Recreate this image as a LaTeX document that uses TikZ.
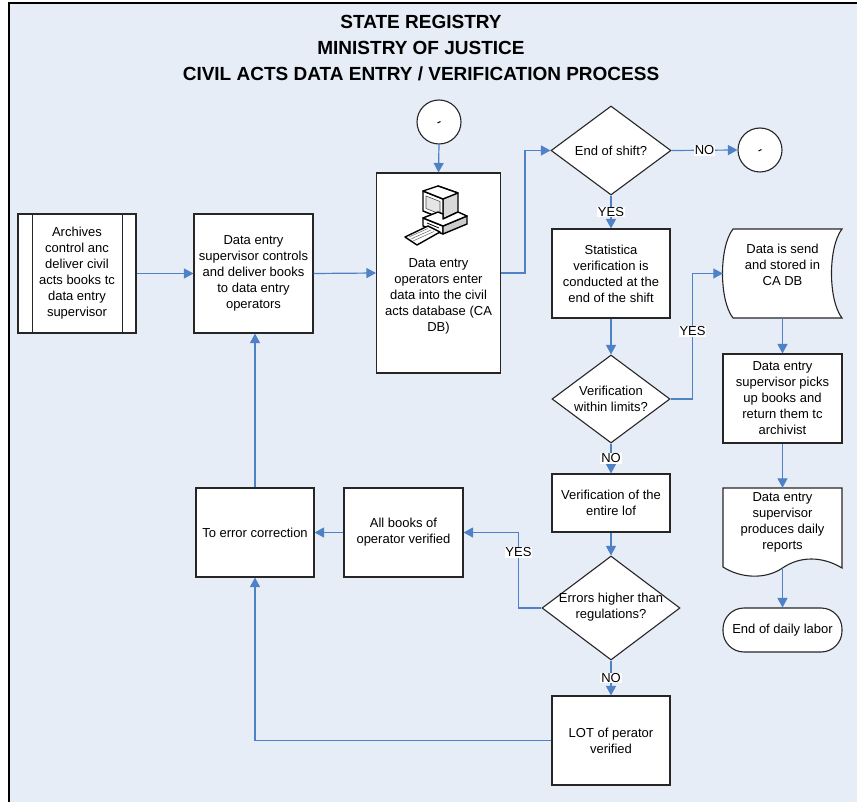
\documentclass[tikz,border=0pt]{standalone}
\usepackage{fontspec}
\setmainfont{Liberation Sans}
\usetikzlibrary{arrows.meta,shapes.geometric,calc}
\definecolor{bgc}{RGB}{230,237,247}
\definecolor{arr}{RGB}{79,129,199}
\tikzset{
  box/.style={draw=black!85,line width=1.1pt,fill=white,rectangle,inner sep=1pt,align=center,font=\fontsize{13}{16}\selectfont},
  dia/.style={draw=black!85,line width=1.1pt,fill=white,diamond,inner sep=0pt},
  dtext/.style={align=center,font=\fontsize{13}{16}\selectfont,inner sep=0pt},
  circ/.style={draw=black!85,line width=1.1pt,fill=white,circle,minimum size=44pt,inner sep=0pt},
  conn/.style={draw=arr,line width=1.2pt,-{Triangle[length=9.5pt,width=10pt]}},
  lab/.style={fill=white,inner sep=0.8pt,font=\fontsize{13}{15}\selectfont,text=black},
  icon/.style={draw=black,line width=1.4pt,line join=round}
}
\begin{document}
\begin{tikzpicture}[x=1pt,y=-1pt]
\useasboundingbox (0,0) rectangle (857,802);
\fill[bgc] (9,3) rectangle (857,802);
\draw[black,line width=1.2pt] (9,802) -- (9,3) -- (857,3);

\node[align=center,font=\fontsize{19}{26}\selectfont\bfseries] (title) at (421,48)
  {STATE REGISTRY\\MINISTRY OF JUSTICE\\CIVIL ACTS DATA ENTRY / VERIFICATION PROCESS};

% nodes
\node[box,minimum width=118pt,minimum height=119pt] (arch) at (77,273.5)
  {Archives\\control anc\\deliver civil\\acts books tc\\data entry\\supervisor};
\draw[black!85,line width=1.1pt] ([xshift=15pt]arch.north west) -- ([xshift=15pt]arch.south west);
\draw[black!85,line width=1.1pt] ([xshift=-14pt]arch.north east) -- ([xshift=-14pt]arch.south east);

\node[box,minimum width=119pt,minimum height=119pt] (sup) at (253.5,273.5)
  {Data entry\\supervisor controls\\and deliver books\\to data entry\\operators};

\node[box,minimum width=124pt,minimum height=200pt] (oper) at (438.5,273) {};
\node[dtext] (opertxt) at (438.5,296.5)
  {Data entry\\operators enter\\data into the civil\\acts database (CA\\DB)};

% computer icon
\begin{scope}
% monitor back
\filldraw[icon,fill=black!15] (438,186) -- (458,193) -- (458,212) -- (443,219) -- (443,199) -- cycle;
% monitor front
\filldraw[icon,fill=white] (423,191) -- (443,199) -- (443,219) -- (423,211) -- cycle;
\filldraw[black!70,fill=black!10,line width=0.6pt] (426,196) -- (440,201.5) -- (440,214) -- (426,208.5) -- cycle;
\filldraw[icon,fill=white] (423,191) -- (438,186) -- (458,193) -- (443,199) -- cycle;
% case
\filldraw[icon,fill=white] (423,218) -- (443,226) -- (443,234) -- (423,226) -- cycle;
\filldraw[icon,fill=black!20] (443,226) -- (467,216) -- (467,224) -- (443,234) -- cycle;
\filldraw[icon,fill=white] (423,218) -- (438,212) -- (443,214) -- (443,219) -- (458,212) -- (467,216) -- (443,226) -- cycle;
\draw[black,line width=0.8pt] (427,223) -- (439,228);
% keyboard
\filldraw[icon,fill=white] (405,237) -- (428,226) -- (440,232) -- (417,245) -- cycle;
\draw[black!60,line width=0.5pt] (409,237) -- (428,228.5) (411,239) -- (431,230) (413,241) -- (434,231.5);
\end{scope}

\node[circ] (c1) at (439,122) {};
\draw[black,line width=0.9pt] (437.5,123) -- (440.5,121.5);

\node[dia,minimum width=120pt,minimum height=89pt] (dEnd) at (611,150.5) {};
\node[dtext] (dEndT) at (611,150.5) {End of shift?};

\node[circ] (c2) at (760,150) {};
\draw[black,line width=0.9pt] (758.5,151) -- (761.5,149.5);

\node[box,minimum width=118pt,minimum height=89pt] (stat) at (611,273.5)
  {Statistica\\verification is\\conducted at the\\end of the shift};

\node[dia,minimum width=118pt,minimum height=88pt] (dVer) at (611,399) {};
\node[dtext] (dVerT) at (611,398.5) {Verification\\within limits?};

% stored data
\node[minimum width=119pt,minimum height=89pt,inner sep=0pt] (stored) at (782.5,273.5) {};
\filldraw[draw=black!85,line width=1.1pt,fill=white]
  (733,229) -- (842,229) .. controls (828,247) and (828,300) .. (842,318)
  -- (733,318) .. controls (719,300) and (719,247) .. (733,229) -- cycle;
\node[dtext] (storedT) at (782.5,265) {Data is send\\and stored in\\CA DB};

\node[box,minimum width=119pt,minimum height=89pt] (picks) at (782.5,398.5)
  {Data entry\\supervisor picks\\up books and\\return them tc\\archivist};

% document
\node[minimum width=119pt,minimum height=80pt,inner sep=0pt] (rep) at (782.5,528) {};
\filldraw[draw=black!85,line width=1.1pt,fill=white]
  (723,488) -- (842,488) -- (842,568)
  .. controls (822,556) and (800,556) .. (782.5,568)
  .. controls (765,580) and (740,578) .. (723,567) -- cycle;
\node[dtext] (repT) at (782.5,522) {Data entry\\supervisor\\produces daily\\reports};
\coordinate (repb) at (782.5,568);

\node[box,minimum width=119pt,minimum height=44pt,rounded corners=21pt] (term) at (782.5,630)
  {End of daily labor};

\node[box,minimum width=118pt,minimum height=58pt] (vlot) at (611,503)
  {Verification of the\\entire lof};

\node[dia,minimum width=138pt,minimum height=104pt] (dErr) at (611,608) {};
\node[dtext] (dErrT) at (611,607) {Errors higher than\\regulations?};

\node[box,minimum width=119pt,minimum height=89pt] (all) at (403.5,532.5)
  {All books of\\operator verified};

\node[box,minimum width=118pt,minimum height=89pt] (err) at (255,532.5)
  {To error correction};

\node[box,minimum width=118pt,minimum height=89pt] (lot) at (611,740.5)
  {LOT of perator\\verified};

% connectors
\draw[conn] (arch.east) -- (sup.west);
\draw[conn] (sup.east) -- (oper.west);
\draw[conn] (c1.south) -- (oper.north);
\draw[conn] (oper.east) -- ++(24,0) |- (dEnd.west);
\draw[conn] (dEnd.east) -- node[lab]{NO} (c2.west);
\draw[conn] (dEnd.south) -- node[lab]{YES} (stat.north);
\draw[conn] (stat.south) -- (dVer.north);
\draw[conn] (dVer.east) -- ++(22,0) |- node[lab,pos=0.27]{YES} (stored.west);
\draw[conn] (stored.south) -- (picks.north);
\draw[conn] (picks.south) -- (rep.north);
\draw[conn] (repb) -- (term.north);
\draw[conn] (dVer.south) -- node[lab]{NO} (vlot.north);
\draw[conn] (vlot.south) -- (dErr.north);
\draw[conn] (dErr.west) -- ++(-23,0) |- node[lab,pos=0.37]{YES} (all.east);
\draw[conn] (all.west) -- (err.east);
\draw[conn] (err.north) -- (err.north |- sup.south);
\draw[conn] (dErr.south) -- node[lab]{NO} (lot.north);
\draw[conn] (lot.west) -| (err.south);
\end{tikzpicture}
\end{document}
